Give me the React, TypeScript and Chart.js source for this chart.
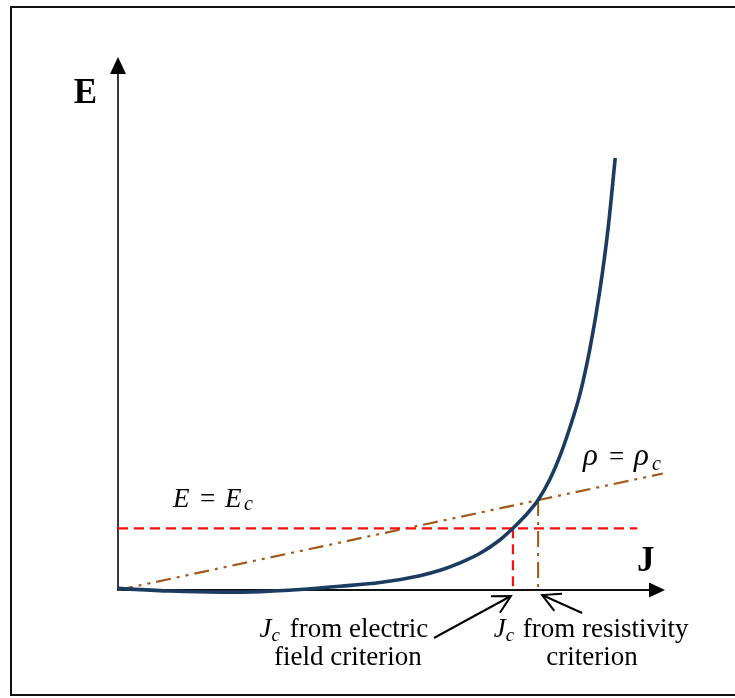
import { useEffect, useRef } from "react";
import { Chart, registerables } from "chart.js";

Chart.register(...registerables);

// E–J characteristic in arbitrary units (both axes run 0–10)
const currentDensity = [
  0, 0.95, 1.86, 2.6, 3.33, 4.06, 4.79, 5.52, 5.89, 6.25, 6.62, 6.98, 7.22, 7.44, 7.68, 7.9, 8.08, 8.26, 8.45,
  8.63, 8.81, 8.96, 9.09,
];
const electricField = [
  0.03, -0.02, -0.04, -0.03, 0.01, 0.07, 0.14, 0.27, 0.37, 0.51, 0.69, 0.94, 1.16, 1.39, 1.69, 2.09, 2.52, 3.05,
  3.7, 4.55, 5.64, 6.8, 8.12,
];

// Electric-field criterion E = Ec and the Jc it gives
const fieldCriterionE = 1.16;
const fieldCriterionJ = 7.22;
const fieldLineEndJ = 9.49;

// Resistivity criterion rho = rho_c: a line through the origin
const resistivityLineJ = [0, 9.96];
const resistivityLineE = [0, 2.19];
const resistivityCrossJ = 7.68;
const resistivityCrossE = 1.69;

const axisMax = 10;

const SERIF = '"Liberation Serif", "Times New Roman", Times, serif';
const CURVE_COLOR = "#1c3b61";
const FIELD_COLOR = "#ff0d0d";
const RHO_COLOR = "#a15a1c";

type Run = { text: string; font: string; x: number; dy?: number };

function drawRuns(ctx: CanvasRenderingContext2D, runs: Run[], x: number, y: number) {
  for (const r of runs) {
    ctx.font = r.font;
    ctx.fillText(r.text, x + r.x, y + (r.dy ?? 0));
  }
}

type Seq = { text: string; font: string; dy?: number; gap?: number };

function drawCentered(ctx: CanvasRenderingContext2D, seq: Seq[], cx: number, y: number) {
  let w = 0;
  for (const s of seq) {
    ctx.font = s.font;
    w += ctx.measureText(s.text).width + (s.gap ?? 0);
  }
  let x = cx - w / 2;
  for (const s of seq) {
    ctx.font = s.font;
    x += s.gap ?? 0;
    ctx.fillText(s.text, x, y + (s.dy ?? 0));
    x += ctx.measureText(s.text).width;
  }
}

function drawOpenArrow(
  ctx: CanvasRenderingContext2D,
  fx: number,
  fy: number,
  tx: number,
  ty: number,
  head: number,
  spread: number
) {
  const back = Math.atan2(fy - ty, fx - tx);
  ctx.beginPath();
  ctx.moveTo(fx, fy);
  ctx.lineTo(tx, ty);
  ctx.moveTo(tx + head * Math.cos(back + spread), ty + head * Math.sin(back + spread));
  ctx.lineTo(tx, ty);
  ctx.lineTo(tx + head * Math.cos(back - spread), ty + head * Math.sin(back - spread));
  ctx.stroke();
}

const framePlugin = {
  id: "ejFrame",
  beforeDatasetsDraw(chart: any) {
    const ctx: CanvasRenderingContext2D = chart.ctx;
    const xs = chart.scales.x;
    const ys = chart.scales.y;
    const x0 = xs.getPixelForValue(0);
    const y0 = ys.getPixelForValue(0);
    const xEnd = xs.getPixelForValue(axisMax);
    const yTop = ys.getPixelForValue(axisMax);
    ctx.save();
    // outer frame (open on the right, where it runs off the page)
    ctx.strokeStyle = "#111";
    ctx.lineWidth = 2;
    ctx.beginPath();
    ctx.moveTo(chart.width, 7);
    ctx.lineTo(11, 7);
    ctx.lineTo(11, 695);
    ctx.lineTo(chart.width, 695);
    ctx.stroke();

    // E axis
    ctx.strokeStyle = "#3a3a3a";
    ctx.lineWidth = 2;
    ctx.beginPath();
    ctx.moveTo(x0, y0 + 1);
    ctx.lineTo(x0, yTop + 14);
    ctx.stroke();
    ctx.fillStyle = "#000";
    ctx.beginPath();
    ctx.moveTo(x0, yTop - 1);
    ctx.lineTo(x0 - 8, yTop + 16);
    ctx.lineTo(x0 + 8, yTop + 16);
    ctx.closePath();
    ctx.fill();

    // J axis
    ctx.strokeStyle = "#111";
    ctx.beginPath();
    ctx.moveTo(x0 - 1, y0);
    ctx.lineTo(xEnd - 14, y0);
    ctx.stroke();
    ctx.beginPath();
    ctx.moveTo(xEnd, y0);
    ctx.lineTo(xEnd - 16, y0 - 7.5);
    ctx.lineTo(xEnd - 16, y0 + 7.5);
    ctx.closePath();
    ctx.fill();
    ctx.restore();
  },
  afterDatasetsDraw(chart: any) {
    const ctx: CanvasRenderingContext2D = chart.ctx;
    const xs = chart.scales.x;
    const ys = chart.scales.y;
    const x0 = xs.getPixelForValue(0);
    const y0 = ys.getPixelForValue(0);
    const xEnd = xs.getPixelForValue(axisMax);
    const yTop = ys.getPixelForValue(axisMax);
    const xE = xs.getPixelForValue(fieldCriterionJ);
    const xR = xs.getPixelForValue(resistivityCrossJ);
    const yEc = ys.getPixelForValue(fieldCriterionE);

    ctx.save();
    ctx.fillStyle = "#000";
    ctx.textBaseline = "alphabetic";
    ctx.textAlign = "left";

    // axis titles
    ctx.font = `bold 35px ${SERIF}`;
    ctx.textAlign = "right";
    ctx.fillText("E", x0 - 21, yTop + 45);
    ctx.textAlign = "left";
    ctx.fillText("J", xEnd - 28, y0 - 19);

    // E = Ec
    const it = `italic 27px ${SERIF}`;
    const up = `27px ${SERIF}`;
    const sub = `italic 20px ${SERIF}`;
    drawRuns(
      ctx,
      [
        { text: "E", font: it, x: 0 },
        { text: "=", font: up, x: 27 },
        { text: "E", font: it, x: 52 },
        { text: "c", font: sub, x: 71, dy: 3 },
      ],
      x0 + 55,
      yEc - 21
    );

    // rho = rho_c
    const rhoFont = `italic 31px ${SERIF}`;
    const rhoX = xs.getPixelForValue(8.5);
    const rhoY = ys.getPixelForValue(resistivityLineE[1]) - 8;
    drawRuns(
      ctx,
      [
        { text: "ρ", font: rhoFont, x: 0 },
        { text: "=", font: up, x: 26 },
        { text: "ρ", font: rhoFont, x: 51 },
        { text: "c", font: sub, x: 69, dy: 5 },
      ],
      rhoX,
      rhoY
    );

    // criterion captions
    const cap = `27px ${SERIF}`;
    const capIt = `italic 27px ${SERIF}`;
    const capSub = `italic 19px ${SERIF}`;
    drawCentered(
      ctx,
      [
        { text: "J", font: capIt },
        { text: "c", font: capSub, dy: 4 },
        { text: " from electric", font: cap, gap: 3 },
      ],
      xE - 169,
      y0 + 47
    );
    drawCentered(ctx, [{ text: "field criterion", font: cap }], xE - 165, y0 + 75);
    drawCentered(
      ctx,
      [
        { text: "J", font: capIt },
        { text: "c", font: capSub, dy: 4 },
        { text: " from resistivity", font: cap, gap: 2 },
      ],
      xR + 53,
      y0 + 47
    );
    drawCentered(ctx, [{ text: "criterion", font: cap }], xR + 54, y0 + 75);

    // pointer arrows
    ctx.strokeStyle = "#000";
    ctx.lineWidth = 2;
    ctx.lineCap = "butt";
    const spread = (28 * Math.PI) / 180;
    drawOpenArrow(ctx, xE - 79, y0 + 48, xE - 2, y0 + 6, 20, spread);
    drawOpenArrow(ctx, xR + 44, y0 + 23, xR + 4, y0 + 5, 20, spread);
    ctx.restore();
  },
};

export default function App() {
  const canvasRef = useRef<HTMLCanvasElement | null>(null);

  useEffect(() => {
    const canvas = canvasRef.current;
    if (!canvas) return;

    const curve = currentDensity.map((j, i) => ({ x: j, y: electricField[i] }));
    const fieldLine = [
      { x: 0, y: fieldCriterionE },
      { x: fieldLineEndJ, y: fieldCriterionE },
    ];
    const fieldDrop = [
      { x: fieldCriterionJ, y: fieldCriterionE },
      { x: fieldCriterionJ, y: 0 },
    ];
    const rhoLine = resistivityLineJ.map((j, i) => ({ x: j, y: resistivityLineE[i] }));
    const rhoDrop = [
      { x: resistivityCrossJ, y: resistivityCrossE },
      { x: resistivityCrossJ, y: 0 },
    ];

    const chart = new Chart(canvas, {
      type: "scatter",
      data: {
        datasets: [
          {
            label: "E(J)",
            data: curve,
            showLine: true,
            borderColor: CURVE_COLOR,
            borderWidth: 3.6,
            pointRadius: 0,
            cubicInterpolationMode: "monotone",
            clip: false,
          },
          {
            label: "E = Ec",
            data: fieldLine,
            showLine: true,
            borderColor: FIELD_COLOR,
            borderWidth: 2.2,
            borderDash: [10, 6],
            pointRadius: 0,
            clip: false,
          },
          {
            label: "Jc (E)",
            data: fieldDrop,
            showLine: true,
            borderColor: FIELD_COLOR,
            borderWidth: 2.2,
            borderDash: [10, 6],
            pointRadius: 0,
            clip: false,
          },
          {
            label: "rho = rho_c",
            data: rhoLine,
            showLine: true,
            borderColor: RHO_COLOR,
            borderWidth: 2.2,
            borderDash: [15, 6, 3, 6, 3, 6],
            pointRadius: 0,
            clip: false,
          },
          {
            label: "Jc (rho)",
            data: rhoDrop,
            showLine: true,
            borderColor: RHO_COLOR,
            borderWidth: 2,
            borderDash: [16, 6, 3, 6],
            pointRadius: 0,
            clip: false,
          },
        ],
      },
      options: {
        responsive: false,
        animation: false,
        devicePixelRatio: 1,
        layout: { padding: { left: 118, right: 70, top: 58, bottom: 108 } },
        scales: {
          x: { type: "linear", min: 0, max: axisMax, display: false },
          y: { type: "linear", min: 0, max: axisMax, display: false },
        },
        plugins: {
          legend: { display: false },
          tooltip: { enabled: false },
        },
        events: [],
      },
      plugins: [framePlugin],
    });

    return () => chart.destroy();
  }, []);

  return (
    <div style={{ position: "fixed", left: 0, top: 0, width: 735, height: 698, background: "#fff" }}>
      <canvas ref={canvasRef} width={735} height={698} style={{ display: "block" }} />
    </div>
  );
}
